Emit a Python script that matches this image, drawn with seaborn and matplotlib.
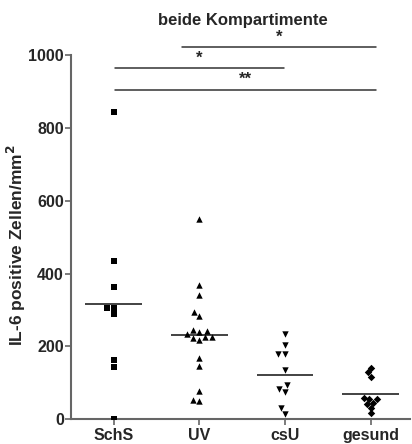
import numpy as np
import pandas as pd
import matplotlib
matplotlib.use("Agg")
import matplotlib.pyplot as plt
import seaborn as sns

categories = ["SchS", "UV", "csU", "gesund"]
schs = [842, 435, 364, 306, 306, 288, 162, 144, 0]
uv = [550, 369, 342, 294, 284, 245, 242, 239, 234, 225, 224, 225, 218, 169, 145, 77, 53, 49]
csu = [234, 204, 178, 178, 134, 93, 82, 76, 30, 15]
gesund = [142, 129, 116, 59, 56, 55, 45, 43, 32, 17]
markers = ["s", "^", "v", "D"]
yticks = [0, 200, 400, 600, 800, 1000]
# significance bars: (start group, end group, level, label)
sig_pairs = [(0.8, 3.06, 1020, "*"), (0.01, 1.99, 963, "*"), (0.01, 3.06, 903, "**")]

groups = [schs, uv, csu, gesund]
df = pd.DataFrame({
    "group": sum([[c] * len(v) for c, v in zip(categories, groups)], []),
    "value": sum(groups, []),
})

sns.set_style("white")
plt.rcParams["font.family"] = ["Liberation Sans", "DejaVu Sans"]
plt.rcParams["font.weight"] = "bold"

fig = plt.figure(figsize=(4.12, 4.44), dpi=100)
ax = fig.add_axes([0.172, 0.0556, 0.823, 0.821])

for cat, mk in zip(categories, markers):
    sub = df[df["group"] == cat]
    msize = 3.8 if mk == "D" else 4.6
    sns.swarmplot(data=sub, x="group", y="value", order=categories, marker=mk,
                  color="black", size=msize, ax=ax, linewidth=0)

means = df.groupby("group", sort=False)["value"].mean()
for i, cat in enumerate(categories):
    ax.hlines(means[cat], i - 0.33, i + 0.33, color="#222222", lw=1.2, zorder=1)

ax.set_xlim(-0.5, 3.46)
ax.set_ylim(0, 1000)
ax.set_yticks(yticks)
ax.set_yticklabels([str(t) for t in yticks], fontsize=11.5, fontweight="bold")
ax.set_xticks(range(len(categories)))
ax.set_xticklabels(categories, fontsize=11.5, fontweight="bold")
ax.set_xlabel("")
ax.set_ylabel("IL-6 positive Zellen/mm$^\\mathbf{2}$", fontsize=12.5, fontweight="bold")
ax.yaxis.set_label_coords(-0.125, 0.478)

for s in ["top", "right"]:
    ax.spines[s].set_visible(False)
for s in ["left", "bottom"]:
    ax.spines[s].set_color("#666666")
    ax.spines[s].set_linewidth(1.5)
    ax.spines[s].set_clip_on(False)
ax.tick_params(axis="y", length=4, width=1.2, color="#666666", pad=1, left=True, direction="out")
ax.tick_params(axis="x", length=4, width=1.2, color="#666666", pad=2, bottom=True, direction="out")

for x0, x1, yv, lab in sig_pairs:
    ax.plot([x0, x1], [yv, yv], color="#333333", lw=1.1, clip_on=False)
    ax.text((x0 + x1) / 2, yv + 8, lab, ha="center", va="bottom", fontsize=12, fontweight="bold", clip_on=False)

fig.text(0.59, 0.953, "beide Kompartimente", ha="center", va="center", fontsize=12, fontweight="bold")

fig.savefig("out.png", dpi=100)
